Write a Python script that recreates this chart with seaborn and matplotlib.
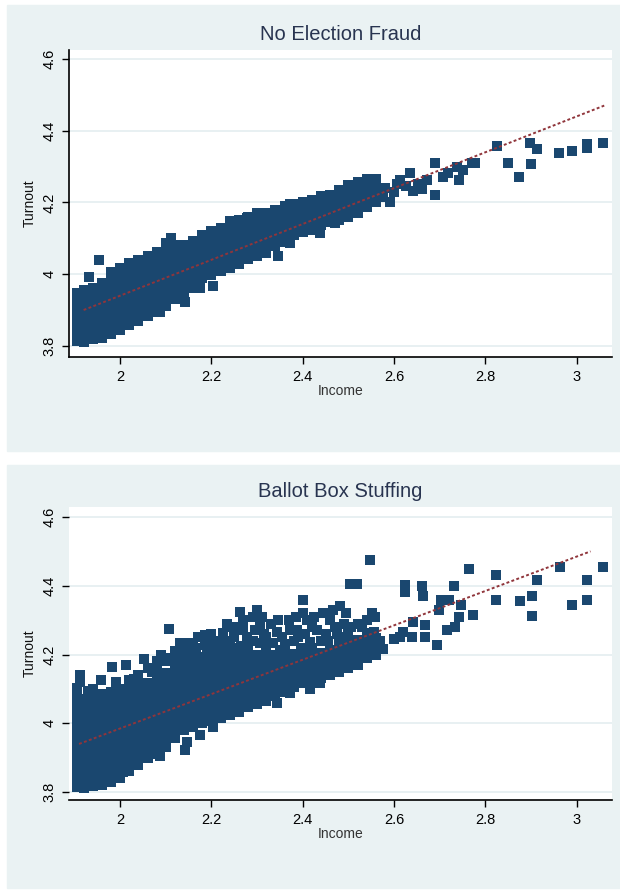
import pandas as pd
import matplotlib.pyplot as plt
import seaborn as sns
from matplotlib.patches import Rectangle

# ---- No Election Fraud: dense band read column by column (income -> turnout values)
clean_col_income = [1.905, 1.92, 1.94, 1.96, 1.98, 2.00, 2.02, 2.04, 2.06, 2.08,
                    2.10, 2.12, 2.14, 2.16, 2.18, 2.20, 2.22, 2.24, 2.26, 2.28,
                    2.30, 2.32, 2.34, 2.36, 2.38, 2.40, 2.42, 2.44, 2.46, 2.48,
                    2.50, 2.52, 2.54, 2.56]
clean_col_turnout = [
    [3.815, 3.837, 3.859, 3.881, 3.903, 3.925, 3.947],
    [3.812, 3.834, 3.856, 3.878, 3.900, 3.922, 3.944, 3.955],
    [3.818, 3.840, 3.862, 3.884, 3.906, 3.928, 3.950, 3.962],
    [3.822, 3.844, 3.866, 3.888, 3.910, 3.932, 3.954, 3.976],
    [3.832, 3.854, 3.876, 3.898, 3.920, 3.942, 3.964, 3.986, 4.006],
    [3.845, 3.867, 3.889, 3.911, 3.933, 3.955, 3.977, 3.999, 4.018],
    [3.858, 3.880, 3.902, 3.924, 3.946, 3.968, 3.990, 4.012, 4.032],
    [3.870, 3.892, 3.914, 3.936, 3.958, 3.980, 4.002, 4.024, 4.040],
    [3.882, 3.904, 3.926, 3.948, 3.970, 3.992, 4.014, 4.036, 4.050],
    [3.895, 3.917, 3.939, 3.961, 3.983, 4.005, 4.027, 4.049, 4.062],
    [3.910, 3.932, 3.954, 3.976, 3.998, 4.020, 4.042, 4.064, 4.086],
    [3.930, 3.952, 3.974, 3.996, 4.018, 4.040, 4.062, 4.080],
    [3.950, 3.972, 3.994, 4.016, 4.038, 4.060, 4.080],
    [3.962, 3.984, 4.006, 4.028, 4.050, 4.072, 4.092],
    [3.988, 4.010, 4.032, 4.054, 4.076, 4.098, 4.108],
    [3.998, 4.020, 4.042, 4.064, 4.086, 4.108, 4.120],
    [4.008, 4.030, 4.052, 4.074, 4.096, 4.118, 4.130],
    [4.018, 4.040, 4.062, 4.084, 4.106, 4.128, 4.148],
    [4.028, 4.050, 4.072, 4.094, 4.116, 4.138, 4.150],
    [4.042, 4.064, 4.086, 4.108, 4.130, 4.152, 4.160],
    [4.050, 4.072, 4.094, 4.116, 4.138, 4.160, 4.170],
    [4.060, 4.082, 4.104, 4.126, 4.148, 4.170],
    [4.078, 4.100, 4.122, 4.144, 4.166, 4.178],
    [4.090, 4.112, 4.134, 4.156, 4.178, 4.190],
    [4.108, 4.130, 4.152, 4.174, 4.196],
    [4.118, 4.140, 4.162, 4.184, 4.200],
    [4.122, 4.144, 4.166, 4.188, 4.208],
    [4.138, 4.160, 4.182, 4.204, 4.218],
    [4.145, 4.167, 4.189, 4.211, 4.222],
    [4.150, 4.172, 4.194, 4.216, 4.236],
    [4.160, 4.182, 4.204, 4.226, 4.248],
    [4.170, 4.192, 4.214, 4.236, 4.258],
    [4.188, 4.210, 4.232, 4.254, 4.265],
    [4.200, 4.222, 4.244, 4.264],
]
# stray points and the sparse upper tail
clean_extra_income = [1.954, 1.932, 2.112, 2.088, 2.142, 2.175, 2.204, 2.278, 2.346, 2.372,
                      2.372, 2.438, 2.470, 2.575, 2.580, 2.590, 2.600, 2.606, 2.613, 2.635,
                      2.641, 2.625, 2.652, 2.660, 2.672, 2.690, 2.690, 2.707, 2.718, 2.737,
                      2.742, 2.750, 2.770, 2.776, 2.825, 2.849, 2.873, 2.897, 2.912, 2.900,
                      2.960, 2.989, 3.022, 3.022, 3.057]
clean_extra_turnout = [4.039, 3.992, 4.100, 3.894, 3.922, 3.960, 3.966, 4.156, 4.050, 4.086,
                       4.197, 4.114, 4.144, 4.215, 4.240, 4.200, 4.230, 4.250, 4.262, 4.283,
                       4.233, 4.245, 4.250, 4.238, 4.262, 4.311, 4.222, 4.270, 4.282, 4.300,
                       4.262, 4.290, 4.311, 4.310, 4.358, 4.311, 4.270, 4.367, 4.350, 4.308,
                       4.339, 4.344, 4.364, 4.353, 4.367]
clean_fit_income = [1.92, 3.06]
clean_fit_turnout = [3.90, 4.47]

# ---- Ballot Box Stuffing
stuff_col_income = [1.905, 1.92, 1.94, 1.96, 1.98, 2.00, 2.02, 2.04, 2.06, 2.08,
                    2.10, 2.12, 2.14, 2.16, 2.18, 2.20, 2.22, 2.24, 2.26, 2.28,
                    2.30, 2.32, 2.34, 2.36, 2.38, 2.40, 2.42, 2.44, 2.46, 2.48,
                    2.50, 2.52, 2.54, 2.56]
stuff_col_turnout = [
    [3.815, 3.839, 3.863, 3.887, 3.911, 3.935, 3.959, 3.983, 4.007, 4.031, 4.055, 4.079, 4.103],
    [3.812, 3.836, 3.860, 3.884, 3.908, 3.932, 3.956, 3.980, 4.004, 4.028, 4.052, 4.070],
    [3.818, 3.842, 3.866, 3.890, 3.914, 3.938, 3.962, 3.986, 4.010, 4.034, 4.058, 4.080],
    [3.822, 3.846, 3.870, 3.894, 3.918, 3.942, 3.966, 3.990, 4.014, 4.038, 4.062, 4.086],
    [3.830, 3.854, 3.878, 3.902, 3.926, 3.950, 3.974, 3.998, 4.022, 4.046, 4.070, 4.092],
    [3.840, 3.864, 3.888, 3.912, 3.936, 3.960, 3.984, 4.008, 4.032, 4.056, 4.080, 4.100],
    [3.862, 3.886, 3.910, 3.934, 3.958, 3.982, 4.006, 4.030, 4.054, 4.078, 4.102],
    [3.878, 3.902, 3.926, 3.950, 3.974, 3.998, 4.022, 4.046, 4.070, 4.094, 4.112],
    [3.900, 3.924, 3.948, 3.972, 3.996, 4.020, 4.044, 4.068, 4.092, 4.116],
    [3.912, 3.936, 3.960, 3.984, 4.008, 4.032, 4.056, 4.080, 4.104, 4.128, 4.152],
    [3.930, 3.954, 3.978, 4.002, 4.026, 4.050, 4.074, 4.098, 4.122, 4.146],
    [3.958, 3.982, 4.006, 4.030, 4.054, 4.078, 4.102, 4.126, 4.150, 4.174],
    [3.980, 4.004, 4.028, 4.052, 4.076, 4.100, 4.124, 4.148, 4.172, 4.196],
    [3.990, 4.014, 4.038, 4.062, 4.086, 4.110, 4.134, 4.158, 4.182, 4.206],
    [4.000, 4.024, 4.048, 4.072, 4.096, 4.120, 4.144, 4.168, 4.192],
    [4.008, 4.032, 4.056, 4.080, 4.104, 4.128, 4.152, 4.176, 4.200],
    [4.014, 4.038, 4.062, 4.086, 4.110, 4.134, 4.158, 4.182, 4.206],
    [4.024, 4.048, 4.072, 4.096, 4.120, 4.144, 4.168, 4.192, 4.216],
    [4.034, 4.058, 4.082, 4.106, 4.130, 4.154, 4.178, 4.202],
    [4.047, 4.071, 4.095, 4.119, 4.143, 4.167, 4.191, 4.215],
    [4.055, 4.079, 4.103, 4.127, 4.151, 4.175, 4.199],
    [4.064, 4.088, 4.112, 4.136, 4.160, 4.184, 4.208],
    [4.078, 4.102, 4.126, 4.150, 4.174, 4.198],
    [4.092, 4.116, 4.140, 4.164, 4.188, 4.212],
    [4.106, 4.130, 4.154, 4.178, 4.202],
    [4.118, 4.142, 4.166, 4.190, 4.214],
    [4.124, 4.148, 4.172, 4.196, 4.220],
    [4.132, 4.156, 4.180, 4.204],
    [4.140, 4.164, 4.188, 4.212],
    [4.150, 4.174, 4.198, 4.222],
    [4.160, 4.184, 4.208, 4.232],
    [4.170, 4.194, 4.218, 4.242],
    [4.190, 4.214, 4.238, 4.262],
    [4.200, 4.224, 4.248],
]
# scattered points above and below the core, plus the sparse right tail
stuff_extra_income = [1.913, 1.913, 1.957, 1.983, 2.013, 2.030, 2.052, 2.070, 2.098, 2.108,
                      2.120, 2.130, 2.150, 2.165, 2.186, 2.186, 2.208, 2.226, 2.240, 2.247,
                      2.263, 2.265, 2.278, 2.300, 2.306, 2.306, 2.290, 2.320, 2.335, 2.343,
                      2.350, 2.372, 2.380, 2.387, 2.400, 2.400, 2.410, 2.420, 2.430, 2.440,
                      2.466, 2.481, 2.460, 2.475, 2.490, 2.488, 2.505, 2.520, 2.503, 2.519,
                      2.547, 2.551, 2.558, 2.510, 2.530, 2.555, 2.570, 2.575, 2.600, 2.612,
                      2.620, 2.640, 2.624, 2.624, 2.660, 2.664, 2.668, 2.668, 2.642, 2.694,
                      2.698, 2.703, 2.716, 2.733, 2.742, 2.746, 2.731, 2.720, 2.772, 2.763,
                      2.824, 2.824, 2.876, 2.902, 2.902, 2.913, 2.963, 2.989, 3.023, 3.023,
                      3.058, 2.007, 2.088, 2.142, 2.147, 2.175, 2.204, 2.343, 2.372, 2.376,
                      2.438, 2.415,
                      2.160, 2.170, 2.190, 2.200, 2.210, 2.220, 2.230, 2.235, 2.250, 2.255,
                      2.270, 2.270, 2.280, 2.290, 2.295, 2.310, 2.315, 2.320, 2.330, 2.345,
                      2.355, 2.360, 2.370, 2.385, 2.390, 2.395, 2.405, 2.415, 2.425, 2.445,
                      2.450, 2.455, 2.470, 2.480, 2.495, 2.500, 2.530, 2.540, 2.040, 2.060,
                      2.080, 2.090, 2.110, 2.130, 2.140, 1.990, 2.020, 1.940, 1.930]
stuff_extra_turnout = [4.140, 4.120, 4.125, 4.164, 4.169, 4.130, 4.188, 4.150, 4.180, 4.275,
                       4.210, 4.234, 4.234, 4.220, 4.257, 4.228, 4.237, 4.263, 4.240, 4.280,
                       4.324, 4.225, 4.251, 4.330, 4.286, 4.233, 4.240, 4.250, 4.233, 4.266,
                       4.213, 4.270, 4.240, 4.270, 4.359, 4.320, 4.300, 4.280, 4.270, 4.240,
                       4.330, 4.340, 4.300, 4.260, 4.290, 4.251, 4.280, 4.290, 4.405, 4.405,
                       4.475, 4.320, 4.310, 4.213, 4.230, 4.265, 4.240, 4.215, 4.245, 4.250,
                       4.266, 4.250, 4.402, 4.382, 4.400, 4.370, 4.285, 4.250, 4.295, 4.229,
                       4.330, 4.358, 4.270, 4.280, 4.310, 4.343, 4.400, 4.360, 4.316, 4.448,
                       4.430, 4.358, 4.355, 4.370, 4.312, 4.416, 4.455, 4.343, 4.416, 4.358,
                       4.455, 3.858, 3.905, 3.922, 3.945, 3.966, 3.990, 4.059, 4.088, 4.106,
                       4.117, 4.100,
                       4.230, 4.250, 4.210, 4.260, 4.220, 4.240, 4.210, 4.290, 4.250, 4.220,
                       4.300, 4.270, 4.230, 4.310, 4.270, 4.310, 4.260, 4.230, 4.290, 4.300,
                       4.250, 4.230, 4.300, 4.310, 4.250, 4.220, 4.260, 4.235, 4.310, 4.320,
                       4.260, 4.240, 4.280, 4.240, 4.320, 4.260, 4.280, 4.300, 4.140, 4.160,
                       4.180, 4.200, 4.190, 4.200, 4.220, 4.120, 4.125, 4.100, 4.095]
stuff_fit_income = [1.91, 3.03]
stuff_fit_turnout = [3.94, 4.50]

x_ticks = [2, 2.2, 2.4, 2.6, 2.8, 3]
x_tick_labels = ['2', '2.2', '2.4', '2.6', '2.8', '3']
y_ticks = [3.8, 4.0, 4.2, 4.4, 4.6]
y_tick_labels = ['3.8', '4', '4.2', '4.4', '4.6']


def panel_frame(col_x, col_y, extra_x, extra_y):
    inc = [x for x, ys in zip(col_x, col_y) for _ in ys] + list(extra_x)
    tur = [y for ys in col_y for y in ys] + list(extra_y)
    return pd.DataFrame({'Income': inc, 'Turnout': tur})


sns.set_style('white')
plt.rcParams['font.family'] = ['Liberation Sans', 'DejaVu Sans']

NAVY = '#1a476f'
MAROON = '#90353b'
BG = '#eaf2f3'
W, H = 620, 890

fig = plt.figure(figsize=(6.2, 8.9), dpi=100)
fig.patch.set_facecolor('white')
fig.patches.append(Rectangle((7 / W, 1 - 451 / H), 1 - 7 / W, 446 / H,
                             transform=fig.transFigure, color=BG, zorder=-10))
fig.patches.append(Rectangle((7 / W, 1 - 888 / H), 1 - 7 / W, 423 / H,
                             transform=fig.transFigure, color=BG, zorder=-10))

ax1 = fig.add_axes([69 / W, 1 - 357 / H, 543 / W, 307 / H])
ax2 = fig.add_axes([69 / W, 1 - 800 / H, 543 / W, 293 / H])

panels = [
    (ax1, panel_frame(clean_col_income, clean_col_turnout, clean_extra_income, clean_extra_turnout),
     clean_fit_income, clean_fit_turnout, 'No Election Fraud', (3.769, 4.625), True),
    (ax2, panel_frame(stuff_col_income, stuff_col_turnout, stuff_extra_income, stuff_extra_turnout),
     stuff_fit_income, stuff_fit_turnout, 'Ballot Box Stuffing', (3.777, 4.629), False),
]

for ax, df, fx, fy, title, ylim, left_spine in panels:
    ax.set_facecolor('white')
    for y in y_ticks:
        ax.axhline(y, color='#e4eef0', lw=1.2, zorder=0)
    sns.scatterplot(data=df, x='Income', y='Turnout', ax=ax, color=NAVY,
                    s=52, linewidth=0, marker='s', zorder=2)
    sns.lineplot(x=fx, y=fy, ax=ax, color=MAROON, lw=1.4,
                 linestyle=(0, (1.5, 1.2)), zorder=3)
    ax.set_xlim(1.888, 3.077)
    ax.set_ylim(*ylim)
    ax.set_xticks(x_ticks)
    ax.set_xticklabels(x_tick_labels)
    ax.set_yticks(y_ticks)
    ax.set_yticklabels(y_tick_labels, rotation=90, va='center')
    ax.tick_params(axis='both', length=5, width=1, color='black',
                   labelsize=10.5, labelcolor='black', direction='out', pad=4,
                   bottom=True, left=True)
    ax.set_title(title, fontsize=14.5, color='#283450', pad=7)
    ax.set_xlabel('Income', fontsize=10, color='#333333', labelpad=0)
    ax.set_ylabel('Turnout', fontsize=10, color='#111111', labelpad=4)
    for side in ['top', 'right']:
        ax.spines[side].set_visible(False)
    ax.spines['bottom'].set_color('black')
    ax.spines['bottom'].set_linewidth(1.2)
    ax.spines['left'].set_visible(left_spine)
    ax.spines['left'].set_color('black')
    ax.spines['left'].set_linewidth(1.2)

fig.savefig('out.png', dpi=100)
